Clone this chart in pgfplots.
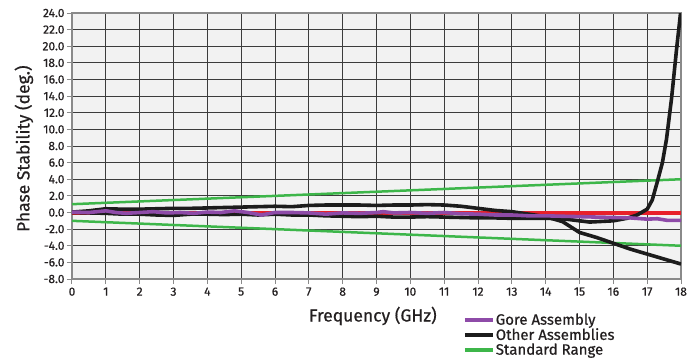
\documentclass[border=0pt]{standalone}
\usepackage{pgfplots}
\pgfplotsset{compat=1.18}
\usepackage{fontspec}
\setmainfont{Fira Sans}
\newfontfamily\firasemi{Fira Sans}[FakeBold=0.6]
\definecolor{bggray}{HTML}{F2F2F2}
\definecolor{gridc}{HTML}{3C3C3C}
\definecolor{framec}{HTML}{8A8A8A}
\definecolor{txt}{HTML}{231F20}
\definecolor{gorepurple}{HTML}{8E4BA8}
\definecolor{otherblack}{HTML}{1C1C1C}
\definecolor{stdgreen}{HTML}{3DB64A}
\definecolor{refred}{HTML}{E8202A}
\begin{document}
\begin{tikzpicture}
\path[use as bounding box] (-72pt,-83pt) rectangle (620pt,279pt);
\begin{axis}[
  at={(0,0)}, anchor=south west,
  scale only axis, width=609pt, height=266pt,
  xmin=0, xmax=18, ymin=-8, ymax=24,
  xtick={0,1,...,18},
  ytick={-8,-6,...,24},
  yticklabels={-8.0,-6.0,-4.0,-2.0,0.0,2.0,4.0,6.0,8.0,10.0,12.0,14.0,16.0,18.0,20.0,22.0,24.0},
  /pgf/number format/assume math mode=true,
  xticklabel style={font=\fontsize{12}{14}\selectfont\firasemi, text=txt},
  yticklabel style={font=\fontsize{12}{14}\selectfont\firasemi, text=txt, xshift=1pt},
  tick align=outside, major tick length=5pt,
  tick style={framec, line width=1pt},
  xtick pos=bottom, ytick pos=left,
  grid=major,
  major grid style={gridc, line width=0.9pt},
  axis line style={framec, line width=1.3pt},
  axis background/.style={fill=bggray},
  xlabel={Frequency (GHz)},
  ylabel={Phase Stability (deg.)},
  xlabel style={font=\fontsize{17.5}{20}\selectfont\firasemi, text=txt, at={(axis description cs:0.494,-0.139)}, anchor=center},
  ylabel style={font=\fontsize{17.5}{20}\selectfont\firasemi, text=txt, at={(axis description cs:-0.079,0.49)}, anchor=center},
  legend image code/.code={\draw[#1] (0pt,0pt) -- (28pt,0pt);},
  legend cell align=left,
  legend style={draw=none, fill=none, inner sep=0pt,
    at={(axis description cs:0.642,-0.125)}, anchor=north west,
    font=\fontsize{15}{16}\selectfont\firasemi, text=txt,
    row sep=0pt, nodes={inner sep=1pt, text=txt}},
]
% reference zero line
\addplot[refred, line width=4pt, forget plot] coordinates {(0,0) (18,0)};
% standard range
\addplot[stdgreen, line width=2.5pt, forget plot] coordinates {(0,1) (18,4)};
\addplot[stdgreen, line width=2.5pt, forget plot] coordinates {(0,-1) (18,-4)};
% other assemblies
\addplot[otherblack, line width=3.6pt, forget plot, line join=round] coordinates {
(0,0.05) (0.5,0.2) (1,0.45) (1.5,0.4) (2,0.4) (2.5,0.45) (3,0.5) (3.5,0.5) (4,0.55) (4.5,0.6)
(5,0.65) (5.5,0.7) (6,0.75) (6.5,0.7) (7,0.85) (7.5,0.9) (8,0.9) (8.5,0.9) (9,0.85) (9.5,0.9)
(10,0.9) (10.5,0.95) (11,0.9) (11.5,0.75) (12,0.5) (12.5,0.25) (13,0.1) (13.5,-0.2) (14,-0.5)
(14.5,-1.1) (15,-2.4) (15.5,-3.0) (16,-3.7) (16.5,-4.4) (17,-5.0) (17.5,-5.6) (18,-6.2)};
\addplot[otherblack, line width=3.6pt, forget plot, line join=round] coordinates {
(0,0.0) (0.5,-0.05) (1,-0.1) (1.5,-0.2) (2,-0.2) (2.5,-0.3) (3,-0.35) (3.5,-0.2) (4,-0.2)
(4.5,-0.25) (5,-0.2) (5.5,-0.3) (6,-0.2) (6.5,-0.3) (7,-0.3) (7.5,-0.4) (8,-0.45) (8.5,-0.5)
(9,-0.45) (9.5,-0.55) (10,-0.55) (10.5,-0.5) (11,-0.55) (11.5,-0.6) (12,-0.65) (12.5,-0.65)
(13,-0.7) (13.5,-0.7) (14,-0.7) (14.5,-0.75) (15,-1.0) (15.3,-1.15) (16,-1.0) (16.4,-0.7)
(16.7,-0.3) (17,0.4) (17.15,1.5) (17.3,3.7) (17.45,6.0) (17.57,8.8) (17.72,13.7) (17.87,19.7) (18,24.5)};
% gore assembly
\addplot[gorepurple, line width=3.6pt, forget plot, line join=round] coordinates {
(0,0.05) (0.5,0.0) (1,0.2) (1.3,0.0) (1.6,-0.1) (2,0.0) (2.4,0.1) (2.8,-0.05) (3.2,0.0) (3.6,-0.1)
(4,0.05) (4.4,0.0) (4.8,0.2) (5.2,0.0) (5.6,-0.3) (6,0.0) (6.5,0.0) (7,-0.05) (7.5,-0.2) (8,-0.05)
(8.5,-0.1) (9,0.0) (9.2,0.1) (9.5,-0.05) (10,0.0) (10.5,-0.1) (11,0.0) (11.5,-0.15) (12,-0.2)
(12.5,-0.3) (13,-0.3) (13.5,-0.4) (14,-0.4) (14.5,-0.45) (15,-0.5) (15.5,-0.55) (16,-0.6)
(16.5,-0.65) (17,-0.8) (17.3,-0.75) (17.6,-0.95) (18,-0.95)};
\addlegendimage{gorepurple, line width=3.6pt}
\addlegendentry{Gore Assembly}
\addlegendimage{otherblack, line width=3.6pt}
\addlegendentry{Other Assemblies}
\addlegendimage{stdgreen, line width=3.6pt}
\addlegendentry{Standard Range}
\end{axis}
\end{tikzpicture}
\end{document}
